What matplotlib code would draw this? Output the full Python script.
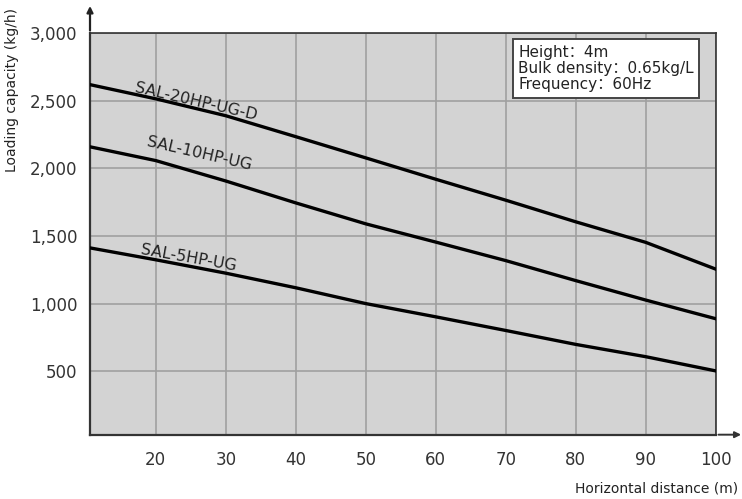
import matplotlib.pyplot as plt
import numpy as np

# datos
distancia = [10.6, 20, 30, 40, 50, 60, 70, 80, 90, 100]
sal20 = [2620, 2515, 2390, 2235, 2078, 1920, 1765, 1605, 1453, 1255]
sal10 = [2160, 2058, 1907, 1745, 1590, 1455, 1318, 1170, 1026, 888]
sal5 = [1412, 1324, 1225, 1117, 1000, 902, 801, 698, 607, 502]
nombres = ['SAL-20HP-UG-D', 'SAL-10HP-UG', 'SAL-5HP-UG']
xticks = [20, 30, 40, 50, 60, 70, 80, 90, 100]
yticks = [500, 1000, 1500, 2000, 2500, 3000]
info = 'Height：4m\nBulk density：0.65kg/L\nFrequency：60Hz'

plt.rcParams['font.family'] = ['DejaVu Sans', 'Noto Sans CJK SC']

fig = plt.figure(figsize=(7.42, 4.99), dpi=100)
ax = fig.add_axes([0.1213, 0.1289, 0.8433, 0.8044])
ax.set_facecolor('#d3d3d3')

for serie in (sal20, sal10, sal5):
    ax.plot(distancia, serie, color='black', lw=2.4, zorder=3)

# etiquetas de las curvas
ax.text(25.7, 2495, nombres[0], rotation=-13, ha='center', va='center', fontsize=11.5, color='#222222')
ax.text(26.2, 2112, nombres[1], rotation=-13, ha='center', va='center', fontsize=11.5, color='#222222')
ax.text(24.7, 1336, nombres[2], rotation=-10, ha='center', va='center', fontsize=11.5, color='#222222')

ax.set_xlim(10.6, 100)
ax.set_ylim(30, 3000)
ax.set_xticks(xticks)
ax.set_yticks(yticks)
ax.set_yticklabels(['{:,}'.format(v) for v in yticks])
ax.tick_params(axis='both', length=0, labelsize=12, colors='#333333')
ax.tick_params(axis='y', pad=9)
ax.tick_params(axis='x', pad=12)
ax.grid(True, color='#a0a0a0', lw=1.2)
ax.set_axisbelow(True)

for s in ax.spines.values():
    s.set_color('#333333')
    s.set_linewidth(1.2)
ax.spines['left'].set_linewidth(1.6)
ax.spines['bottom'].set_linewidth(1.6)

# flechas de los ejes
ax.annotate('', xy=(0, 1.075), xytext=(0, 1.0), xycoords='axes fraction',
            arrowprops=dict(arrowstyle='-|>', color='#222222', lw=1.6, mutation_scale=9))
ax.annotate('', xy=(1.045, 0), xytext=(1.0, 0), xycoords='axes fraction',
            arrowprops=dict(arrowstyle='-|>', color='#333333', lw=1.4, mutation_scale=9))

ax.text(0.684, 0.972, info, transform=ax.transAxes, ha='left', va='top', fontsize=11,
        linespacing=1.12, color='#222222',
        bbox=dict(boxstyle='square,pad=0.35', facecolor='white', edgecolor='#444444', lw=1.4))

fig.text(0.016, 0.82, 'Loading capacity (kg/h)', rotation=90, ha='center', va='center',
         fontsize=10, color='#222222')
fig.text(0.995, 0.022, 'Horizontal distance (m)', ha='right', va='center',
         fontsize=10, color='#222222')

plt.savefig('out.png', dpi=100)
